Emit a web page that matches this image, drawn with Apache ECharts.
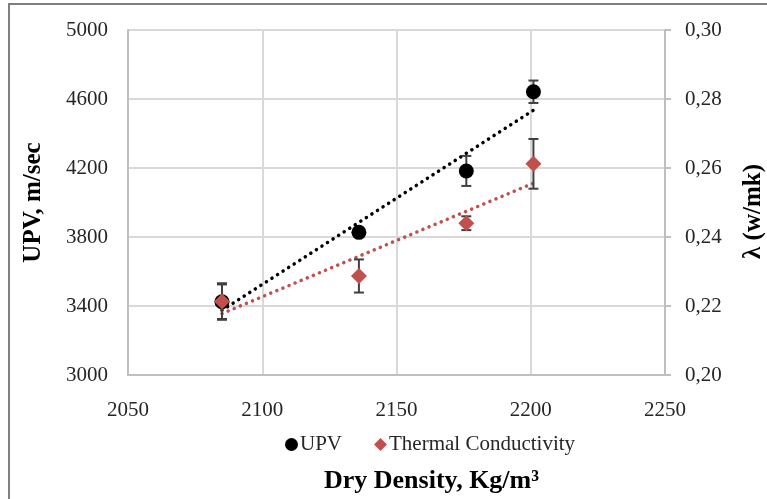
<!DOCTYPE html>
<html>
<head>
<meta charset="utf-8">
<script src="https://cdn.jsdelivr.net/npm/echarts@6/dist/echarts.min.js"></script>
<style>html,body{margin:0;padding:0;background:#fff;}#c{width:767px;height:499px;}</style>
</head>
<body>
<div id="c"></div>
<script>
// ---- data ----
var density = [2085, 2136, 2176, 2201];
var upv = [3425, 3827, 4183, 4642];
var upvErr = [100, 15, 87, 65];
var lambda = [0.2213, 0.2287, 0.2440, 0.2612];
var lambdaErr = [0.0053, 0.0048, 0.0020, 0.0072];
var trendX = [2085, 2201];
var upvTrend = [3375, 4535];
var lambdaTrend = [0.2178, 0.2556];
var xTicks = [2050, 2100, 2150, 2200, 2250];

var FONT = 'Liberation Serif';
var chart = echarts.init(document.getElementById('c'));

function pairs(xs, ys) { return xs.map(function (x, i) { return [x, ys[i]]; }); }
function errData(xs, ys, es) { return xs.map(function (x, i) { return [x, ys[i] - es[i], ys[i] + es[i]]; }); }

function errRender(params, api) {
  var x = api.value(0);
  var lo = api.coord([x, api.value(1)]);
  var hi = api.coord([x, api.value(2)]);
  var w = 5;
  var style = { stroke: '#404040', lineWidth: 2 };
  return {
    type: 'group',
    children: [
      { type: 'line', shape: { x1: lo[0], y1: lo[1], x2: hi[0], y2: hi[1] }, style: style },
      { type: 'line', shape: { x1: lo[0] - w, y1: lo[1], x2: lo[0] + w, y2: lo[1] }, style: style },
      { type: 'line', shape: { x1: hi[0] - w, y1: hi[1], x2: hi[0] + w, y2: hi[1] }, style: style }
    ]
  };
}

var option = {
  backgroundColor: '#fff',
  animation: false,
  textStyle: { fontFamily: FONT },
  grid: { left: 128, right: 102, top: 30, bottom: 124, containLabel: false, outerBoundsMode: 'none' },
  graphic: [
    { type: 'rect', shape: { x: 9, y: 4, width: 800, height: 520 }, style: { fill: 'none', stroke: '#7f7f7f', lineWidth: 2 }, silent: true }
  ],
  legend: {
    data: [
      { name: 'UPV', icon: 'circle' },
      { name: 'Thermal Conductivity', icon: 'diamond' }
    ],
    left: 280, top: 429,
    itemWidth: 13, itemHeight: 13, itemGap: 32,
    textStyle: { fontFamily: FONT, fontSize: 21, color: '#262626', padding: [0, 0, 0, -3] }
  },
  xAxis: {
    type: 'value', min: 2050, max: 2250, interval: 50,
    name: 'Dry Density, Kg/m³', nameLocation: 'middle', nameGap: 93,
    nameTextStyle: { fontFamily: FONT, fontSize: 26, fontWeight: 'bold', color: '#000', padding: [0, 0, 0, 70] },
    axisLine: { show: true, lineStyle: { color: '#bfbfbf', width: 2 } },
    axisTick: { show: false },
    axisLabel: { fontFamily: FONT, fontSize: 21, color: '#262626', margin: 25,
      formatter: function (v) { return xTicks.indexOf(v) >= 0 ? String(v) : ''; } },
    splitLine: { show: true, lineStyle: { color: '#d9d9d9', width: 2 } }
  },
  yAxis: [
    {
      type: 'value', min: 3000, max: 5000, interval: 400,
      name: 'UPV, m/sec', nameLocation: 'middle', nameGap: 82, nameRotate: 90,
      nameTextStyle: { fontFamily: FONT, fontSize: 25, fontWeight: 'bold', color: '#000' },
      axisLine: { show: true, lineStyle: { color: '#bfbfbf', width: 2 } },
      axisTick: { show: false },
      axisLabel: { fontFamily: FONT, fontSize: 21, color: '#262626', margin: 20,
        formatter: function (v) { return String(v); } },
      splitLine: { show: true, lineStyle: { color: '#d9d9d9', width: 2 } }
    },
    {
      type: 'value', min: 0.20, max: 0.30, interval: 0.02, position: 'right',
      name: 'λ (w/mk)', nameLocation: 'middle', nameGap: 76, nameRotate: 90,
      nameTextStyle: { fontFamily: FONT, fontSize: 25, fontWeight: 'bold', color: '#000', padding: [0, 18, 0, 0] },
      axisLine: { show: true, lineStyle: { color: '#bfbfbf', width: 2 } },
      axisTick: { show: true, inside: false, length: 6, lineStyle: { color: '#bfbfbf', width: 2 } },
      axisLabel: { fontFamily: FONT, fontSize: 21, color: '#262626', margin: 20,
        formatter: function (v) { return v.toFixed(2).replace('.', ','); } },
      splitLine: { show: false }
    }
  ],
  series: [
    {
      name: 'UPV trend', type: 'line', yAxisIndex: 0, data: pairs(trendX, upvTrend),
      showSymbol: false, z: 2,
      lineStyle: { color: '#000', width: 3.5, type: [0.1, 6.5], cap: 'round' }
    },
    {
      name: 'Thermal trend', type: 'line', yAxisIndex: 1, data: pairs(trendX, lambdaTrend),
      showSymbol: false, z: 2,
      lineStyle: { color: '#c0504d', width: 3.5, type: [0.1, 6.5], cap: 'round' }
    },
    {
      name: 'UPV err', type: 'custom', yAxisIndex: 0, renderItem: errRender,
      data: errData(density, upv, upvErr), z: 3
    },
    {
      name: 'Thermal err', type: 'custom', yAxisIndex: 1, renderItem: errRender,
      data: errData(density, lambda, lambdaErr), z: 3
    },
    {
      name: 'UPV', type: 'scatter', yAxisIndex: 0, data: pairs(density, upv),
      symbol: 'circle', symbolSize: 15, itemStyle: { color: '#000', opacity: 1 }, z: 5
    },
    {
      name: 'Thermal Conductivity', type: 'scatter', yAxisIndex: 1, data: pairs(density, lambda),
      symbol: 'diamond', symbolSize: 16, itemStyle: { color: '#c0504d', opacity: 1 }, z: 6
    }
  ]
};
chart.setOption(option);
</script>
</body>
</html>
